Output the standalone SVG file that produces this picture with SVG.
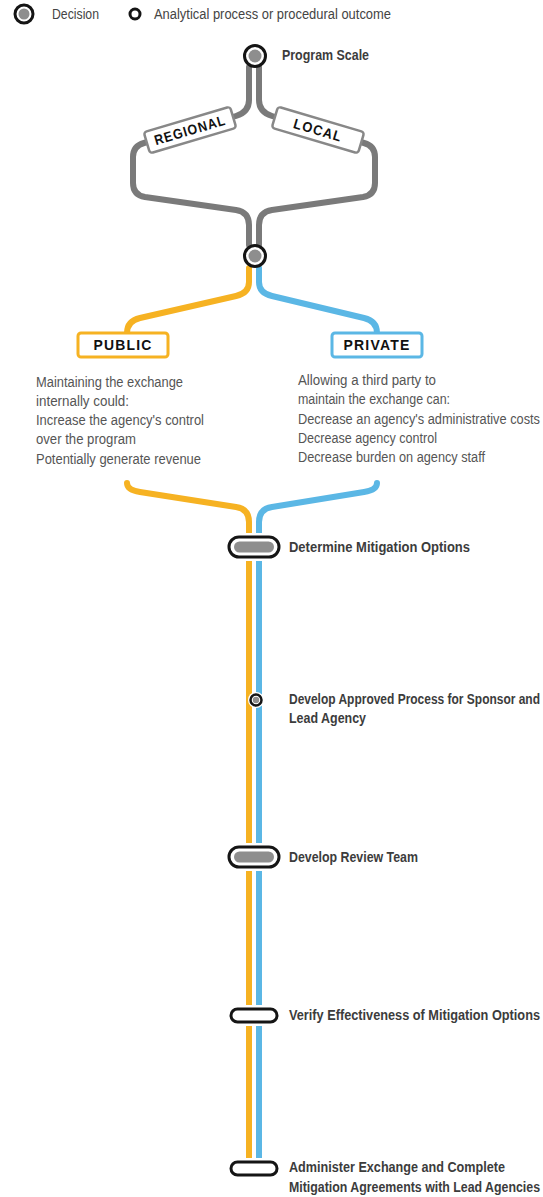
<svg xmlns="http://www.w3.org/2000/svg" width="543" height="1197" viewBox="0 0 543 1197">
<style>
.t{font-family:"Liberation Sans",Arial,sans-serif}
.lbl{font-size:14px;font-weight:bold;fill:#3c3c3c}
.desc{font-size:14px;fill:#555}
.leg{font-size:14px;fill:#444}
.box{font-family:"Liberation Sans",Arial,sans-serif;font-size:14px;font-weight:bold;fill:#111;letter-spacing:1.2px}
.g{fill:none;stroke:#7a7a7a;stroke-width:6;stroke-linecap:round}
.y{fill:none;stroke:#F6B222;stroke-width:6;stroke-linecap:round}
.b{fill:none;stroke:#5BB7E5;stroke-width:6;stroke-linecap:round}
.ring{fill:#fff;stroke:#151515;stroke-width:3}
.halo{fill:#fff;stroke:#fff;stroke-width:8}
.fillg{fill:#8e8e8e}
</style>
<rect width="543" height="1197" fill="#fff"/>
<g id="legend">
<circle cx="24" cy="14" r="9" class="ring"/>
<circle cx="24" cy="14" r="5.5" class="fillg"/>
<text x="52" y="19" class="t leg" textLength="47" lengthAdjust="spacingAndGlyphs">Decision</text>
<circle cx="135" cy="14" r="5" class="ring"/>
<text x="154" y="19" class="t leg" textLength="237" lengthAdjust="spacingAndGlyphs">Analytical process or procedural outcome</text>
</g>
<g id="connectors">
<path class="g" d="M249,67 V100 Q249,112 236,116 L144,143 Q133,146 133,157 V183 Q133,195 145,197 L236,210 Q249,212 249,225 V245"/>
<path class="g" d="M259,67 V100 Q259,112 272,116 L364,143 Q375,146 375,157 V183 Q375,195 363,197 L272,210 Q259,212 259,225 V245"/>
<path class="y" d="M249,268 V282 Q249,293 236,296 L140,318 Q127,321 127,333"/>
<path class="b" d="M259,268 V282 Q259,293 272,296 L364,318 Q377,321 377,333"/>
<path class="y" d="M127,483 Q127,490 140,492 L236,507 Q249,509 249,522 V1158"/>
<path class="b" d="M377,483 Q377,490 364,492 L272,507 Q259,509 259,522 V1158"/>
</g>
<g id="program-scale">
<circle cx="255" cy="56" r="10.5" class="ring"/>
<circle cx="255" cy="56" r="6.5" class="fillg"/>
<text x="282" y="60" class="t lbl" textLength="87" lengthAdjust="spacingAndGlyphs">Program Scale</text>
</g>
<g id="regional">
<g transform="translate(190,130) rotate(-16.5)">
<rect x="-45" y="-11" width="90" height="22" rx="3" fill="#fff" stroke="#888" stroke-width="2.5"/>
<text x="0" y="5" text-anchor="middle" class="box" textLength="74" lengthAdjust="spacingAndGlyphs">REGIONAL</text>
</g>
</g>
<g id="local">
<g transform="translate(318,130) rotate(16.5)">
<rect x="-45" y="-11" width="90" height="22" rx="3" fill="#fff" stroke="#888" stroke-width="2.5"/>
<text x="0" y="5" text-anchor="middle" class="box" textLength="50" lengthAdjust="spacingAndGlyphs">LOCAL</text>
</g>
</g>
<g id="decision-2">
<circle cx="255" cy="256" r="10.5" class="ring"/>
<circle cx="255" cy="256" r="6.5" class="fillg"/>
</g>
<g id="public">
<rect x="78" y="333" width="90" height="24" rx="3" fill="#fff" stroke="#F6B222" stroke-width="3"/>
<text x="123" y="350" text-anchor="middle" class="box" textLength="59" lengthAdjust="spacingAndGlyphs">PUBLIC</text>
<text class="t desc">
<tspan x="36" y="387" textLength="147" lengthAdjust="spacingAndGlyphs">Maintaining the exchange</tspan>
<tspan x="36" y="406" textLength="93" lengthAdjust="spacingAndGlyphs">internally could:</tspan>
<tspan x="36" y="425" textLength="168" lengthAdjust="spacingAndGlyphs">Increase the agency's control</tspan>
<tspan x="36" y="444" textLength="100" lengthAdjust="spacingAndGlyphs">over the program</tspan>
<tspan x="36" y="464" textLength="165" lengthAdjust="spacingAndGlyphs">Potentially generate revenue</tspan>
</text>
</g>
<g id="private">
<rect x="332" y="333" width="90" height="24" rx="3" fill="#fff" stroke="#5BB7E5" stroke-width="3"/>
<text x="377" y="350" text-anchor="middle" class="box" textLength="67" lengthAdjust="spacingAndGlyphs">PRIVATE</text>
<text class="t desc">
<tspan x="298" y="385" textLength="138" lengthAdjust="spacingAndGlyphs">Allowing a third party to</tspan>
<tspan x="298" y="404" textLength="152" lengthAdjust="spacingAndGlyphs">maintain the exchange can:</tspan>
<tspan x="298" y="424" textLength="242" lengthAdjust="spacingAndGlyphs">Decrease an agency's administrative costs</tspan>
<tspan x="298" y="443" textLength="139" lengthAdjust="spacingAndGlyphs">Decrease agency control</tspan>
<tspan x="298" y="462" textLength="187" lengthAdjust="spacingAndGlyphs">Decrease burden on agency staff</tspan>
</text>
</g>
<g id="determine">
<rect x="229" y="537" width="50" height="20" rx="10" class="halo"/>
<rect x="229" y="537" width="50" height="20" rx="10" class="ring"/>
<rect x="234" y="541.5" width="40" height="11" rx="5.5" class="fillg"/>
<text x="289" y="552" class="t lbl" textLength="181" lengthAdjust="spacingAndGlyphs">Determine Mitigation Options</text>
</g>
<g id="approved">
<circle cx="256" cy="700" r="8" fill="#fff"/>
<circle cx="256" cy="700" r="5.5" fill="#fff" stroke="#151515" stroke-width="2.5"/>
<circle cx="256" cy="700" r="3.2" class="fillg"/>
<text class="t lbl">
<tspan x="289" y="704" textLength="251" lengthAdjust="spacingAndGlyphs">Develop Approved Process for Sponsor and</tspan>
<tspan x="289" y="723" textLength="77" lengthAdjust="spacingAndGlyphs">Lead Agency</tspan>
</text>
</g>
<g id="review">
<rect x="229" y="847" width="50" height="20" rx="10" class="halo"/>
<rect x="229" y="847" width="50" height="20" rx="10" class="ring"/>
<rect x="234" y="851.5" width="40" height="11" rx="5.5" class="fillg"/>
<text x="289" y="862" class="t lbl" textLength="129" lengthAdjust="spacingAndGlyphs">Develop Review Team</text>
</g>
<g id="verify">
<rect x="231" y="1009" width="46" height="13" rx="6.5" class="halo"/>
<rect x="231" y="1009" width="46" height="13" rx="6.5" class="ring"/>
<text x="289" y="1020" class="t lbl" textLength="251" lengthAdjust="spacingAndGlyphs">Verify Effectiveness of Mitigation Options</text>
</g>
<g id="administer">
<rect x="231" y="1162" width="46" height="13" rx="6.5" class="halo"/>
<rect x="231" y="1162" width="46" height="13" rx="6.5" class="ring"/>
<text class="t lbl">
<tspan x="289" y="1172" textLength="216" lengthAdjust="spacingAndGlyphs">Administer Exchange and Complete</tspan>
<tspan x="289" y="1192" textLength="251" lengthAdjust="spacingAndGlyphs">Mitigation Agreements with Lead Agencies</tspan>
</text>
</g>
</svg>
